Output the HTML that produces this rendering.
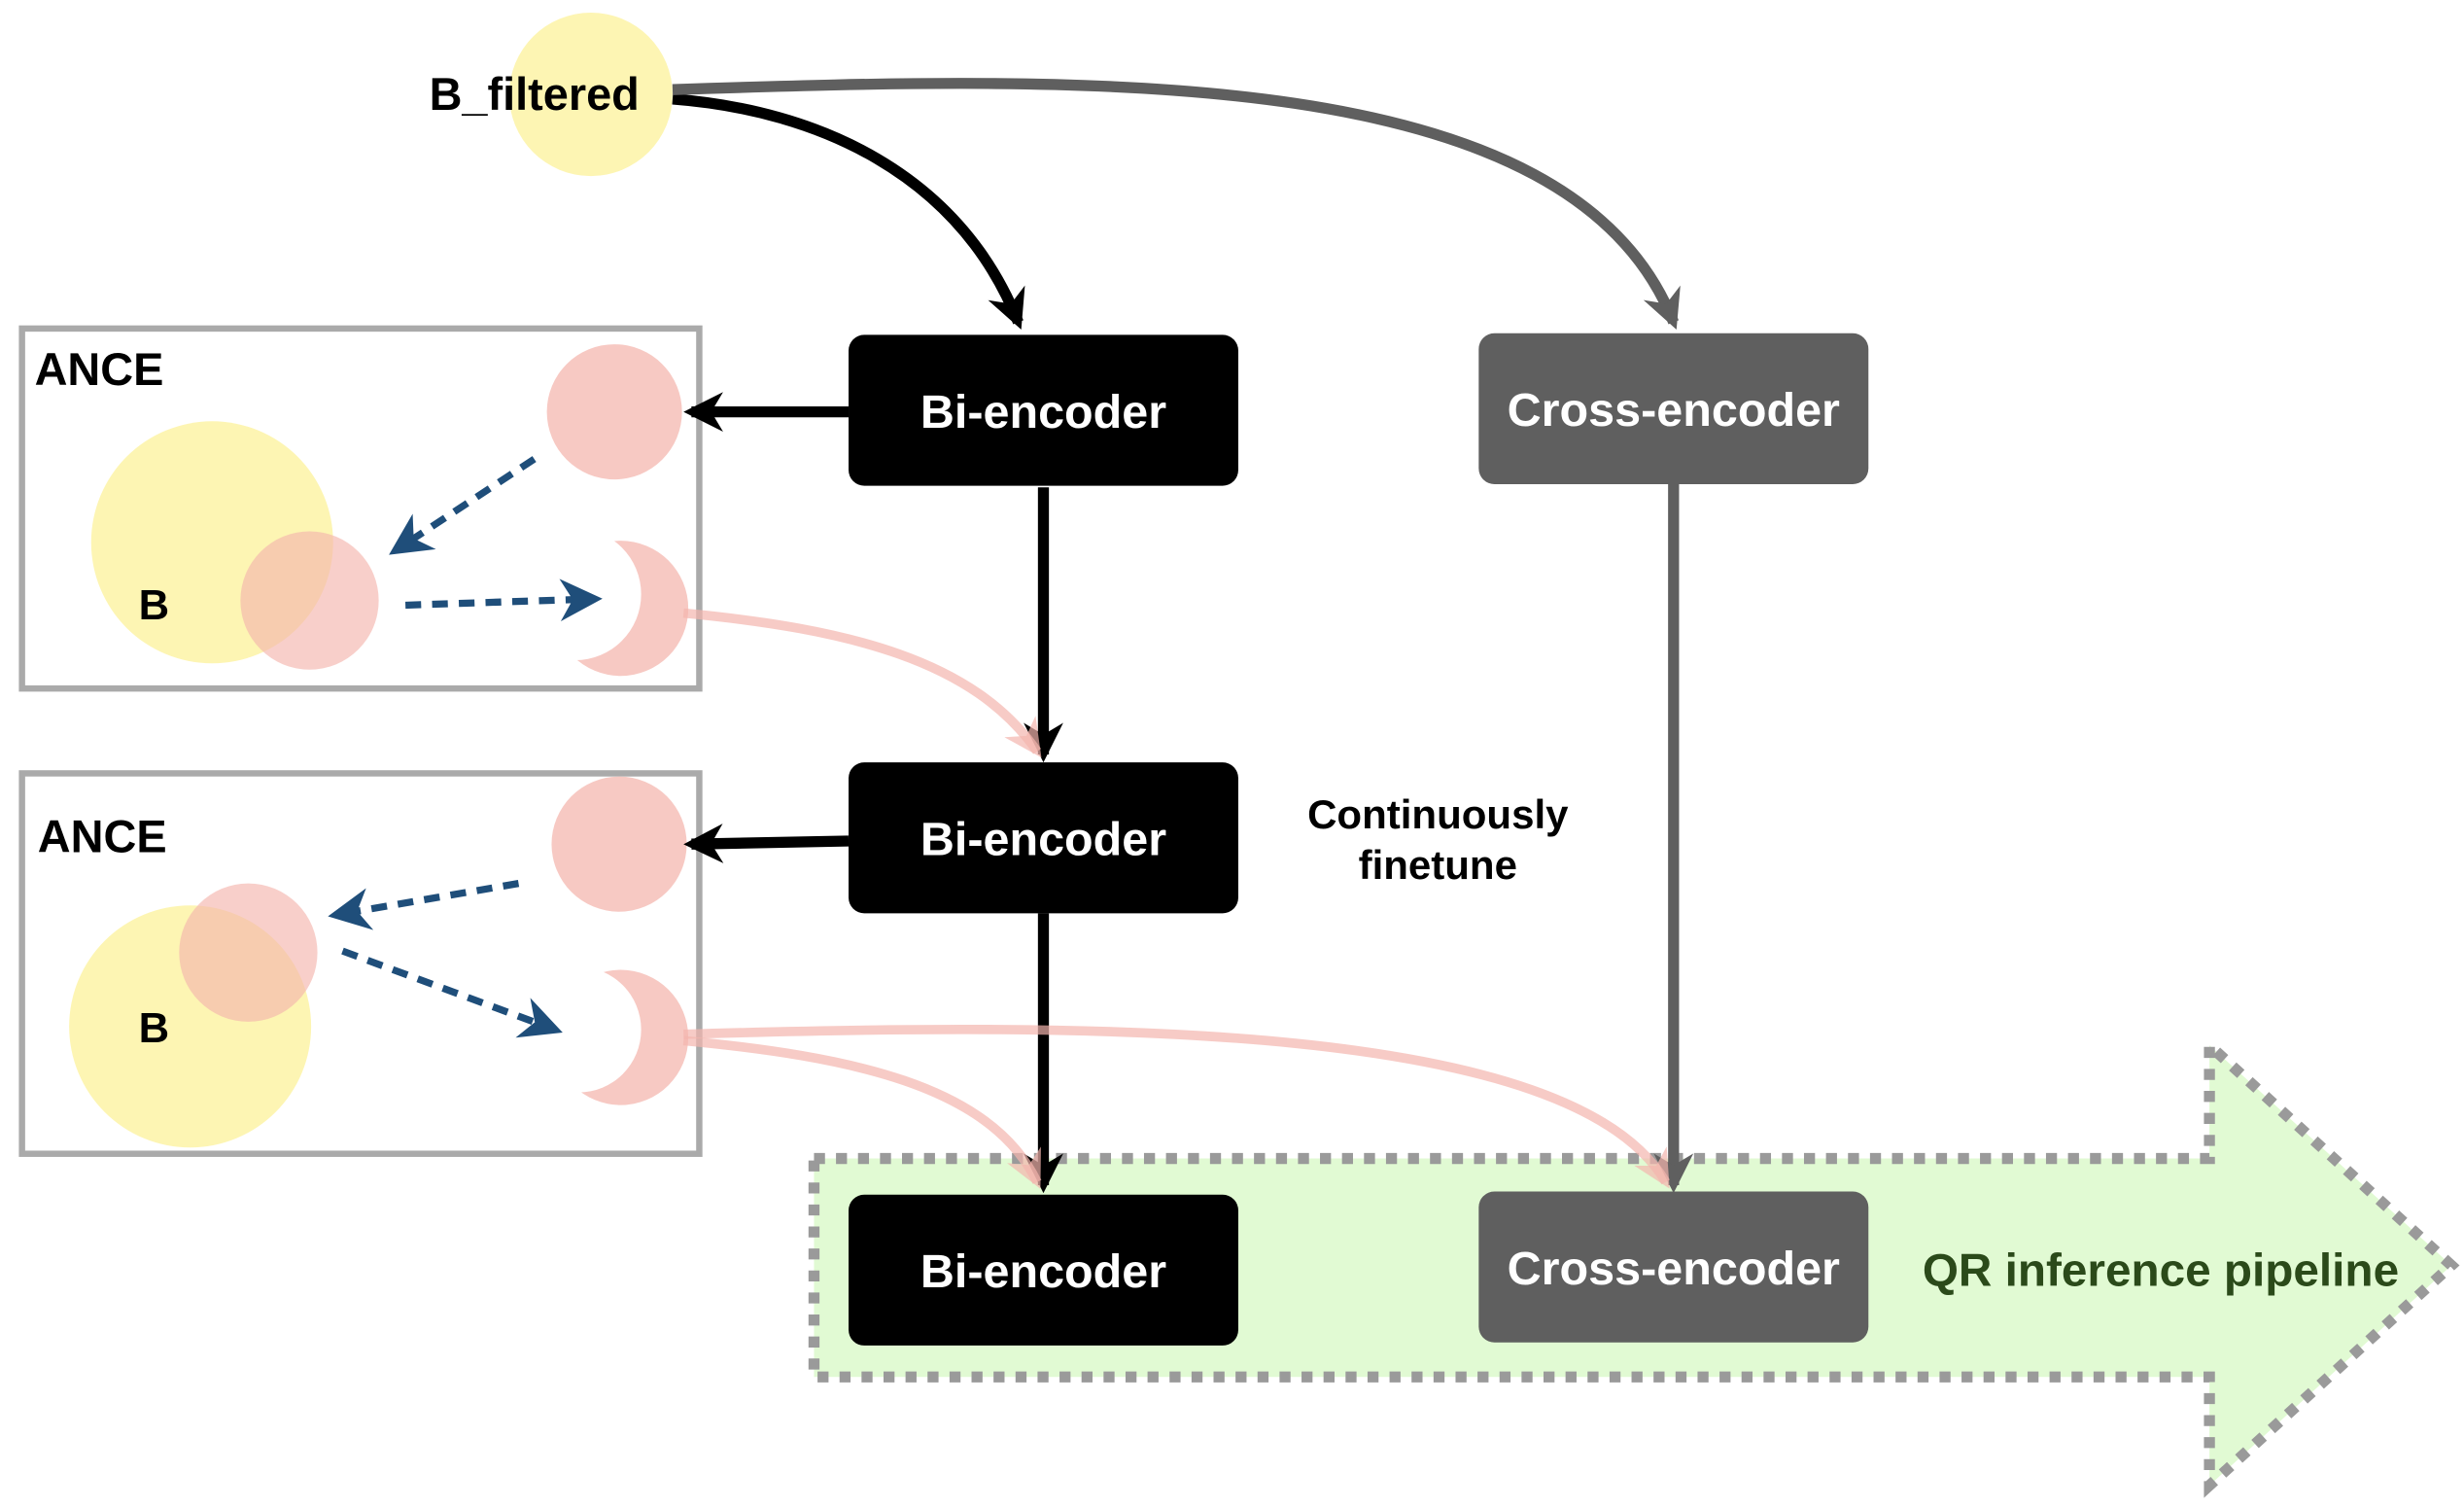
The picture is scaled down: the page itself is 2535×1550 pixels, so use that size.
<!DOCTYPE html>
<html><head><meta charset="utf-8"><style>html,body{margin:0;padding:0;background:#fff}svg{display:block}</style></head>
<body>
<svg width="2535" height="1550" viewBox="0 0 1568 958.7" xmlns="http://www.w3.org/2000/svg" font-family="Liberation Sans, Arial, sans-serif" font-weight="bold">
<defs>
<marker id="ab" viewBox="0 0 10 10" refX="8" refY="5" markerWidth="3.6" markerHeight="3.6" orient="auto" markerUnits="strokeWidth"><path d="M0,0 L10,5 L0,10 L3,5 z" fill="#000"/></marker>
<marker id="ag" viewBox="0 0 10 10" refX="8" refY="5" markerWidth="3.6" markerHeight="3.6" orient="auto" markerUnits="strokeWidth"><path d="M0,0 L10,5 L0,10 L3,5 z" fill="#5f5f5f"/></marker>
<marker id="abl" viewBox="0 0 10 10" refX="8" refY="5" markerWidth="6" markerHeight="6" orient="auto" markerUnits="strokeWidth"><path d="M0,0 L10,5 L0,10 L3,5 z" fill="#1f4e7a"/></marker>
<marker id="ap" viewBox="0 0 10 10" refX="8" refY="5" markerWidth="4" markerHeight="4" orient="auto" markerUnits="strokeWidth"><path d="M0,0 L10,5 L0,10 L3,5 z" fill="#f4b5ae" fill-opacity="0.7"/></marker>
</defs>

<polygon points="518,737 1406,737 1406,665 1560,805 1406,945 1406,876 518,876" fill="#e1fad3" stroke="#9a9a9a" stroke-width="7" stroke-dasharray="7,7"/>

<circle cx="376" cy="60" r="52" fill="#fdf5b3"/>
<text x="340" y="70" font-size="29" text-anchor="middle">B_filtered</text>

<path d="M428,63 C520,70 610,110 648,205" fill="none" stroke="#000" stroke-width="7" marker-end="url(#ab)"/>
<path d="M428,57 C700,48 1000,40 1065,205" fill="none" stroke="#5f5f5f" stroke-width="7" marker-end="url(#ag)"/>

<rect x="14" y="209" width="431" height="229" fill="none" stroke="#aaa" stroke-width="4"/>
<text x="22" y="245" font-size="29">ANCE</text>
<circle cx="135" cy="345" r="77" fill="#fdf5b3"/>
<circle cx="197" cy="382" r="44" fill="#f4b5ae" fill-opacity="0.65"/>
<text x="98" y="394" font-size="27" text-anchor="middle">B</text>
<circle cx="391" cy="262" r="43" fill="#f7c9c3"/>
<circle cx="395" cy="387" r="43" fill="#f7c9c3"/>
<circle cx="366" cy="378" r="42" fill="#fff"/>
<line x1="340" y1="292" x2="252" y2="350" stroke="#1f4e7a" stroke-width="4.5" stroke-dasharray="10,7" marker-end="url(#abl)"/>
<line x1="258" y1="385" x2="378" y2="381" stroke="#1f4e7a" stroke-width="4.5" stroke-dasharray="10,7" marker-end="url(#abl)"/>

<rect x="14" y="492" width="431" height="242" fill="none" stroke="#aaa" stroke-width="4"/>
<text x="24" y="542" font-size="29">ANCE</text>
<circle cx="121" cy="653" r="77" fill="#fdf5b3"/>
<circle cx="158" cy="606" r="44" fill="#f4b5ae" fill-opacity="0.65"/>
<text x="98" y="663" font-size="27" text-anchor="middle">B</text>
<circle cx="394" cy="537" r="43" fill="#f7c9c3"/>
<circle cx="395" cy="660" r="43" fill="#f7c9c3"/>
<circle cx="368" cy="655" r="40" fill="#fff"/>
<line x1="330" y1="562" x2="214" y2="582" stroke="#1f4e7a" stroke-width="4.5" stroke-dasharray="10,7" marker-end="url(#abl)"/>
<line x1="218" y1="605" x2="353" y2="655" stroke="#1f4e7a" stroke-width="4.5" stroke-dasharray="10,7" marker-end="url(#abl)"/>

<line x1="664" y1="310" x2="664" y2="480" stroke="#000" stroke-width="7" marker-end="url(#ab)"/>
<line x1="664" y1="581" x2="664" y2="754" stroke="#000" stroke-width="7" marker-end="url(#ab)"/>
<line x1="1065" y1="308" x2="1065" y2="754" stroke="#5f5f5f" stroke-width="7" marker-end="url(#ag)"/>
<line x1="540" y1="262" x2="440" y2="262" stroke="#000" stroke-width="7" marker-end="url(#ab)"/>
<line x1="540" y1="535" x2="440" y2="537" stroke="#000" stroke-width="7" marker-end="url(#ab)"/>

<g fill="none" stroke="#f4b5ae" stroke-opacity="0.7" stroke-width="6">
<path d="M435,390 C540,400 620,420 660,478" marker-end="url(#ap)"/>
<path d="M435,662 C540,672 630,690 660,752" marker-end="url(#ap)"/>
<path d="M435,658 C700,650 1000,650 1060,752" marker-end="url(#ap)"/>
</g>

<g font-size="30" text-anchor="middle">
<rect x="540" y="213" width="248" height="96" rx="10" fill="#000"/>
<text x="664" y="272" fill="#fff">Bi-encoder</text>
<rect x="941" y="212" width="248" height="96" rx="10" fill="#5f5f5f"/>
<text x="1065" y="271" fill="#fff">Cross-encoder</text>
<rect x="540" y="485" width="248" height="96" rx="10" fill="#000"/>
<text x="664" y="544" fill="#fff">Bi-encoder</text>
<rect x="540" y="760" width="248" height="96" rx="10" fill="#000"/>
<text x="664" y="819" fill="#fff">Bi-encoder</text>
<rect x="941" y="758" width="248" height="96" rx="10" fill="#5f5f5f"/>
<text x="1065" y="817" fill="#fff">Cross-encoder</text>
</g>

<text x="915" y="527" font-size="26" text-anchor="middle">Continuously</text>
<text x="915" y="559" font-size="26" text-anchor="middle">finetune</text>
<text x="1375" y="818" font-size="29.5" text-anchor="middle" fill="#2b4a1a">QR inference pipeline</text>
</svg>
</body></html>
